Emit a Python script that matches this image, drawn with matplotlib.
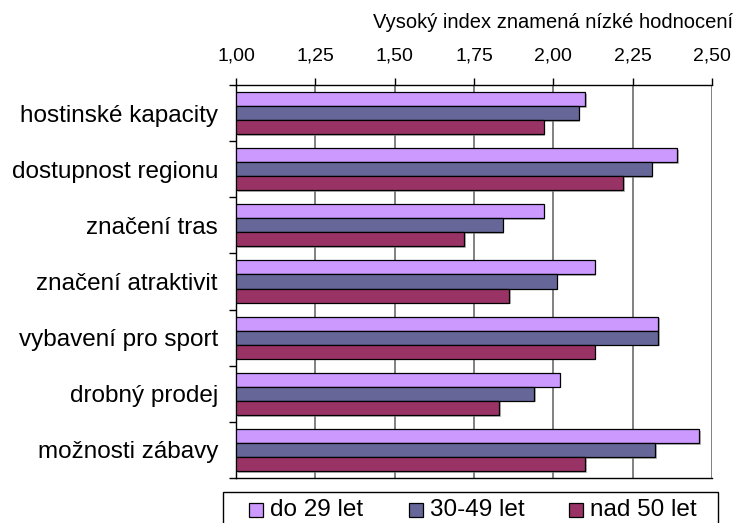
import numpy as np
import matplotlib
matplotlib.use("Agg")
import matplotlib.pyplot as plt
from matplotlib.patches import Rectangle
import matplotlib.patheffects as pe

plt.rcParams['font.family'] = ['Liberation Sans', 'DejaVu Sans']

categories = ["hostinské kapacity", "dostupnost regionu", "značení tras",
              "značení atraktivit", "vybavení pro sport", "drobný prodej",
              "možnosti zábavy"]
series_names = ["do 29 let", "30-49 let", "nad 50 let"]
do29 = [2.10, 2.39, 1.97, 2.13, 2.33, 2.02, 2.46]
s30_49 = [2.08, 2.31, 1.84, 2.01, 2.33, 1.94, 2.32]
nad50 = [1.97, 2.22, 1.72, 1.86, 2.13, 1.83, 2.10]
colors = ["#CC99FF", "#666699", "#993366"]
xticks = [1.00, 1.25, 1.50, 1.75, 2.00, 2.25, 2.50]

W, H = 740, 523
fig = plt.figure(figsize=(7.4, 5.23), dpi=100)
ax = fig.add_axes([236/W, 1-478/H, 476/W, 393/H])

y = np.arange(len(categories))
h = 0.25
shadow = [pe.SimplePatchShadow(offset=(1.2, -1.2), shadow_rgbFace="#888888", alpha=0.6), pe.Normal()]
for i, (vals, name, c) in enumerate(zip([do29, s30_49, nad50], series_names, colors)):
    bars = ax.barh(y + (i - 1) * h, np.array(vals) - 1.0, left=1.0, height=h,
                   color=c, edgecolor="black", linewidth=0.9, label=name, zorder=3)
    for b in bars:
        b.set_path_effects(shadow)

ax.set_xlim(1.0, 2.5)
ax.set_ylim(len(categories) - 0.5, -0.5)
ax.xaxis.tick_top()
ax.set_xticks(xticks)
ax.set_xticklabels([f"{v:.2f}".replace(".", ",") for v in xticks], fontsize=14)
ax.tick_params(axis='x', direction='out', length=5, width=1, pad=9.5)
ax.grid(axis='x', color="#808080", linewidth=1.4, zorder=0)

ax.set_yticks(np.arange(-0.5, len(categories)), minor=False)
ax.set_yticklabels([])
ax.set_yticks(y, minor=True)
ax.set_yticklabels(categories, minor=True, fontsize=17.5)
ax.tick_params(axis='y', which='major', direction='out', length=5, width=1)
ax.tick_params(axis='y', which='minor', length=0, pad=13)

for s in ["top", "left", "bottom"]:
    ax.spines[s].set_color("black")
    ax.spines[s].set_linewidth(1)
ax.spines["right"].set_visible(False)

fig.text(733/W, 1-22/H, "Vysoký index znamená nízké hodnocení",
         ha='right', va='center', fontsize=14.5)

# legend drawn by hand, as in the original (box runs off the bottom edge)
fig.patches.append(Rectangle((223/W, -0.05), 495/W, 0.05 + 1-492/H,
                             transform=fig.transFigure, facecolor="white",
                             edgecolor="black", linewidth=1))
leg_x = [249, 409, 569]
for lx, name, c in zip(leg_x, series_names, colors):
    fig.patches.append(Rectangle((lx/W, 1-517/H), 14/W, 14/H,
                                 transform=fig.transFigure, facecolor=c,
                                 edgecolor="black", linewidth=0.9))
    fig.text((lx + 21)/W, 1-510/H, name, ha='left', va='center', fontsize=17.5)

fig.savefig("out.png", dpi=100)
